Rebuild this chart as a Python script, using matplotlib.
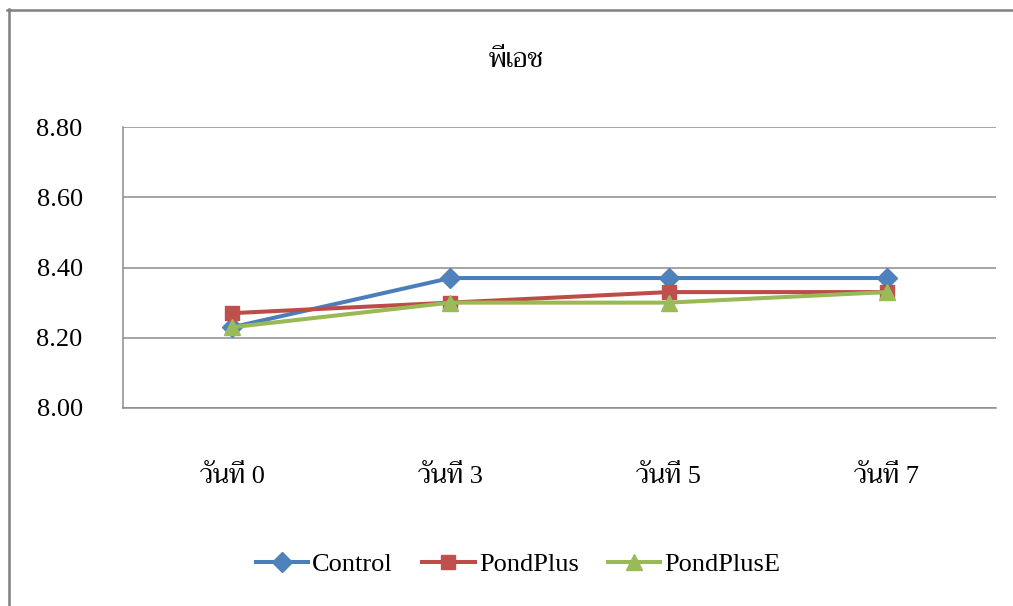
import matplotlib
matplotlib.use("Agg")
import matplotlib.pyplot as plt
from matplotlib.lines import Line2D

# pH readings per sampling day
days = ["วันที่ 0", "วันที่ 3", "วันที่ 5", "วันที่ 7"]
control = [8.23, 8.37, 8.37, 8.37]
pondplus = [8.27, 8.30, 8.33, 8.33]
pondpluse = [8.23, 8.30, 8.30, 8.33]
yticks = [8.00, 8.20, 8.40, 8.60, 8.80]
title = "พีเอช"

FONTS = ["Liberation Serif", "Trirong", "DejaVu Sans"]
plt.rcParams["font.family"] = FONTS

W, H = 1013, 606
fig = plt.figure(figsize=(W / 100, H / 100), dpi=100)
fig.patch.set_facecolor("white")

# outer chart frame (top and left edges visible)
frame_col = "#808080"
fig.add_artist(Line2D([7 / W, 1.0], [1 - 9.5 / H, 1 - 9.5 / H],
                      transform=fig.transFigure, color=frame_col, lw=1.8))
fig.add_artist(Line2D([8.5 / W, 8.5 / W], [1 - 9 / H, 0.0],
                      transform=fig.transFigure, color=frame_col, lw=1.8))

ax = fig.add_axes([123 / W, 1 - 408 / H, 873 / W, 281 / H])
x = list(range(len(days)))

series = [
    ("Control", control, "#4A7EBB", "#4F81BD", "D", 10),
    ("PondPlus", pondplus, "#BE4B48", "#C0504D", "s", 10.5),
    ("PondPlusE", pondpluse, "#98B954", "#9BBB59", "^", 12),
]
for name, vals, lc, mc, mk, ms in series:
    ax.plot(x, vals, color=lc, lw=2.9, marker=mk, markersize=ms,
            markerfacecolor=mc, markeredgecolor=mc, label=name, zorder=3)

ax.set_xlim(-0.5, len(days) - 0.5)
ax.set_ylim(8.00, 8.80)
ax.set_yticks(yticks)
ax.set_yticklabels([f"{v:.2f}" for v in yticks])
ax.set_xticks(x)
ax.set_xticklabels(days)
ax.tick_params(axis="y", length=0, pad=29, labelsize=19)
ax.tick_params(axis="x", length=0, pad=41, labelsize=19)
ax.grid(axis="y", color="#8c8c8c", lw=1.1, zorder=0)
ax.set_axisbelow(True)
for s in ("top", "right"):
    ax.spines[s].set_visible(False)
for s in ("left", "bottom"):
    ax.spines[s].set_color("#8c8c8c")
    ax.spines[s].set_linewidth(1.1)

fig.text(516 / W, 1 - 60 / H, title, ha="center", va="center", fontsize=19)

fig.legend(loc="center", bbox_to_anchor=(518 / W, 1 - 564 / H), ncol=3,
           frameon=False, fontsize=19, handlelength=2.0, handletextpad=0.15,
           columnspacing=1.1)

fig.savefig("out.png", dpi=100, facecolor="white")
